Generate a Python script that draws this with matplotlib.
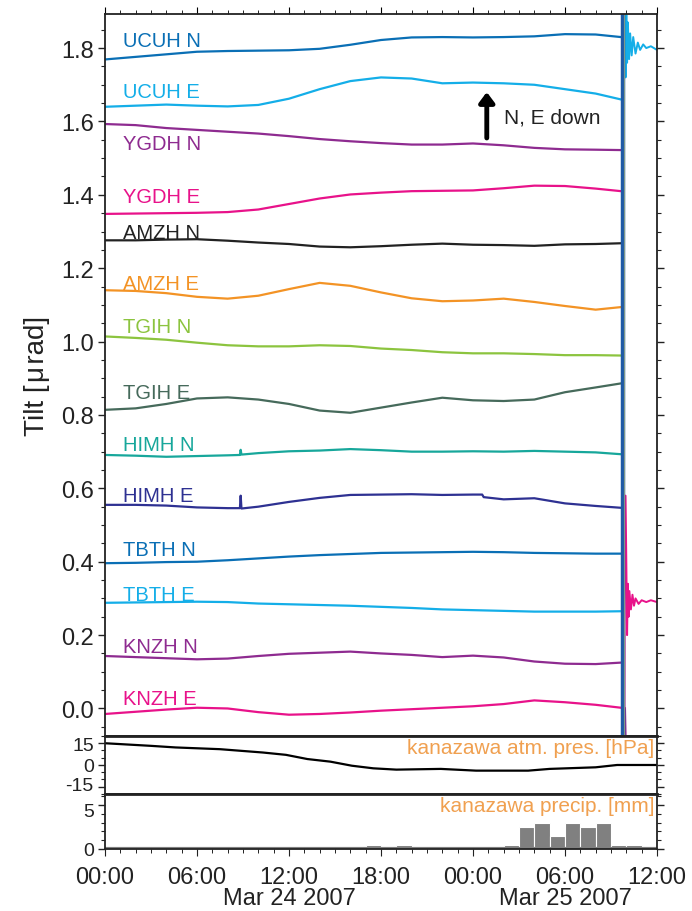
import numpy as np
import matplotlib
matplotlib.use("Agg")
import matplotlib.pyplot as plt
import matplotlib.transforms as mtransforms
from matplotlib.ticker import MultipleLocator

plt.rcParams['font.family'] = ['Liberation Sans', 'DejaVu Sans']
plt.rcParams['axes.unicode_minus'] = False

# --- data (hours since 2007-03-24 00:00) ---
hours = [0, 2, 4, 6, 8, 10, 12, 14, 16, 18, 20, 22, 24, 26, 28, 30, 32, 33.65]

ucuh_n = [1.769, 1.776, 1.783, 1.790, 1.792, 1.793, 1.794, 1.798, 1.809, 1.822,
          1.829, 1.830, 1.829, 1.830, 1.832, 1.838, 1.837, 1.830]
ucuh_e = [1.640, 1.643, 1.646, 1.643, 1.641, 1.645, 1.662, 1.688, 1.710, 1.720,
          1.717, 1.704, 1.706, 1.704, 1.700, 1.688, 1.676, 1.660]
ygdh_n = [1.593, 1.590, 1.582, 1.577, 1.572, 1.567, 1.560, 1.552, 1.546, 1.541,
          1.537, 1.537, 1.540, 1.535, 1.528, 1.524, 1.523, 1.522]
ygdh_e = [1.348, 1.349, 1.350, 1.351, 1.353, 1.360, 1.375, 1.390, 1.401, 1.406,
          1.410, 1.411, 1.412, 1.418, 1.425, 1.424, 1.417, 1.410]
amzh_n = [1.276, 1.276, 1.278, 1.279, 1.275, 1.270, 1.266, 1.259, 1.257, 1.260,
          1.264, 1.267, 1.264, 1.263, 1.261, 1.265, 1.266, 1.268]
amzh_e = [1.140, 1.138, 1.132, 1.122, 1.117, 1.125, 1.143, 1.160, 1.152, 1.134,
          1.118, 1.110, 1.112, 1.117, 1.108, 1.097, 1.087, 1.094]
tgih_n = [1.014, 1.010, 1.005, 0.997, 0.990, 0.987, 0.987, 0.990, 0.988, 0.981,
          0.977, 0.971, 0.968, 0.968, 0.966, 0.963, 0.963, 0.962]
tgih_e = [0.814, 0.818, 0.830, 0.845, 0.848, 0.842, 0.830, 0.812, 0.806, 0.820,
          0.834, 0.847, 0.840, 0.838, 0.842, 0.862, 0.875, 0.886]
tbth_n = [0.396, 0.397, 0.399, 0.400, 0.404, 0.409, 0.414, 0.418, 0.421, 0.424,
          0.425, 0.426, 0.427, 0.426, 0.424, 0.423, 0.422, 0.422]
tbth_e = [0.288, 0.289, 0.290, 0.291, 0.290, 0.286, 0.284, 0.282, 0.280, 0.277,
          0.274, 0.270, 0.268, 0.266, 0.264, 0.264, 0.264, 0.265]
knzh_n = [0.143, 0.140, 0.137, 0.134, 0.136, 0.143, 0.149, 0.152, 0.155, 0.150,
          0.146, 0.140, 0.144, 0.139, 0.128, 0.122, 0.121, 0.125]
knzh_e = [-0.015, -0.009, -0.003, 0.002, 0.000, -0.010, -0.017, -0.015, -0.011, -0.006,
          -0.002, 0.002, 0.006, 0.012, 0.022, 0.017, 0.010, 0.002]

# HIMH traces have small spikes, so they get their own time axis
himh_n_t = [0, 2, 4, 6, 8, 8.8, 8.85, 8.9, 10, 12, 14, 16, 18, 20, 22, 24, 26, 28, 30, 32, 33.65]
himh_n = [0.691, 0.689, 0.686, 0.688, 0.690, 0.691, 0.705, 0.692, 0.696, 0.701, 0.703,
          0.707, 0.704, 0.700, 0.700, 0.701, 0.700, 0.702, 0.700, 0.698, 0.693]
himh_e_t = [0, 2, 4, 6, 8, 8.8, 8.85, 8.9, 10, 12, 14, 16, 18, 20, 22, 24, 24.6, 24.7,
            26, 28, 29, 30, 32, 33.65]
himh_e = [0.555, 0.555, 0.553, 0.548, 0.546, 0.546, 0.580, 0.545, 0.550, 0.563, 0.574,
          0.582, 0.583, 0.584, 0.582, 0.583, 0.583, 0.576, 0.570, 0.573, 0.566, 0.559,
          0.552, 0.547]

# after the earthquake (Mar 25 ~09:42)
quake_hour = 33.77
cyan_after_t = [33.9, 33.95, 34.0, 34.05, 34.1, 34.18, 34.25, 34.35, 34.45, 34.6,
                34.75, 34.9, 35.1, 35.3, 35.6, 36.0]
cyan_after = [1.95, 1.72, 1.90, 1.76, 1.87, 1.77, 1.84, 1.78, 1.83, 1.785,
              1.815, 1.795, 1.81, 1.80, 1.805, 1.795]
pink_after_t = [33.88, 33.9, 33.95, 34.0, 34.05, 34.1, 34.15, 34.2, 34.3, 34.4,
                34.5, 34.6, 34.8, 35.0, 35.3, 35.6, 36.0]
pink_after = [0.0, 0.58, 0.58, 0.40, 0.20, 0.34, 0.25, 0.32, 0.27, 0.31,
              0.28, 0.30, 0.285, 0.295, 0.29, 0.295, 0.29]
purple_after_t = [33.9, 33.95]
purple_after = [0.0, -0.10]

pres_t = [0, 3, 4.6, 7.5, 10.3, 11.8, 13.2, 14.7, 16.1, 17.5, 19, 21.9, 24.2, 27.6,
          29, 32, 33.4, 36]
pres = [15, 13.2, 12.1, 10.9, 8.6, 7.0, 4.1, 2.3, -0.5, -2.3, -3.2, -2.7, -3.9, -3.9,
        -2.7, -1.6, 0, 0]

precip_hour = list(range(36))
precip = [0] * 36
for h, v in [(17, 0.5), (19, 0.5), (26, 0.5), (27, 2.5), (28, 3.0), (29, 1.5),
             (30, 3.0), (31, 2.5), (32, 3.0), (33, 0.5), (34, 0.5)]:
    precip[h] = v

tick_labels = ["00:00", "06:00", "12:00\nMar 24 2007", "18:00", "00:00",
               "06:00\nMar 25 2007", "12:00"]

series = [
    ("UCUH N", hours, ucuh_n, "#0a6fb5", 1.82),
    ("UCUH E", hours, ucuh_e, "#14aee8", 1.681),
    ("YGDH N", hours, ygdh_n, "#8e2b90", 1.54),
    ("YGDH E", hours, ygdh_e, "#e8128a", 1.395),
    ("AMZH N", hours, amzh_n, "#222222", 1.297),
    ("AMZH E", hours, amzh_e, "#f39325", 1.158),
    ("TGIH N", hours, tgih_n, "#8cc43f", 1.041),
    ("TGIH E", hours, tgih_e, "#466a5b", 0.861),
    ("HIMH N", himh_n_t, himh_n, "#17a79b", 0.719),
    ("HIMH E", himh_e_t, himh_e, "#2e3192", 0.58),
    ("TBTH N", hours, tbth_n, "#0a6fb5", 0.433),
    ("TBTH E", hours, tbth_e, "#14aee8", 0.31),
    ("KNZH N", hours, knzh_n, "#8e2b90", 0.169),
    ("KNZH E", hours, knzh_e, "#e8128a", 0.027),
]

# --- figure ---
fig = plt.figure(figsize=(6.92, 9.12), dpi=100)
ax = fig.add_axes([0.1517, 0.1919, 0.7977, 0.7917])
ax_p = fig.add_axes([0.1517, 0.1283, 0.7977, 0.0636])
ax_r = fig.add_axes([0.1517, 0.0680, 0.7977, 0.0603])

for name, t, v, c, ly in series:
    ax.plot(t, v, color=c, lw=1.6)
    ax.text(1.2, ly, name, color=c, fontsize=14.5, va="center", ha="left")

ax.plot(purple_after_t, purple_after, color="#8e2b90", lw=1.8)
ax.plot(pink_after_t, pink_after, color="#e8128a", lw=1.4)
ax.plot(cyan_after_t, cyan_after, color="#14aee8", lw=1.4)
ax.axvline(quake_hour, color="#1f5aa6", lw=3.2)
ax.axvline(quake_hour + 0.1, color="#7f9a8a", lw=0.8)

ax.annotate("", xy=(24.9, 1.68), xytext=(24.9, 1.555),
            arrowprops=dict(arrowstyle="-|>,head_width=0.45,head_length=0.6",
                            color="black", lw=3.5, shrinkA=0, shrinkB=0))
ax.text(26.0, 1.613, "N, E down", fontsize=15, va="center", ha="left",
        color="#222222")

ax.set_ylim(-0.075, 1.893)
ax.set_yticks([0.0, 0.2, 0.4, 0.6, 0.8, 1.0, 1.2, 1.4, 1.6, 1.8])
ax.yaxis.set_minor_locator(MultipleLocator(0.05))
ax.set_ylabel("Tilt [\u200aμ\u200arad]", fontsize=20, labelpad=8, color="#222222")

ax_p.plot(pres_t, pres, color="black", lw=1.6)
ax_p.set_ylim(-20, 20)
ax_p.set_yticks([-15, 0, 15])
ax_p.yaxis.set_minor_locator(MultipleLocator(5))
ax_p.text(0.995, 0.97, "kanazawa atm. pres. [hPa]", transform=ax_p.transAxes,
          color="#f0a050", fontsize=15, ha="right", va="top")

ax_r.bar(precip_hour, precip, width=1.0, align="edge", color="#808080",
         edgecolor="white", linewidth=0.8)
ax_r.axhline(0, color="#808080", lw=3)
ax_r.set_ylim(0, 6.25)
ax_r.set_yticks([0, 5])
ax_r.yaxis.set_minor_locator(MultipleLocator(1))
ax_r.text(0.995, 0.97, "kanazawa precip. [mm]", transform=ax_r.transAxes,
          color="#f0a050", fontsize=15, ha="right", va="top")

for a in (ax, ax_p, ax_r):
    a.set_xlim(0, 36)
    for s in a.spines.values():
        s.set_linewidth(1.3)
        s.set_color("#222222")
    a.tick_params(axis="y", which="both", direction="out", left=True, right=True,
                  labelsize=17, colors="#222222", pad=3)
    a.tick_params(axis="y", which="major", length=5, width=1)
    a.tick_params(axis="y", which="minor", length=3, width=0.8)

# the small panels sit close together, keep their tick labels a bit smaller
for a in (ax_p, ax_r):
    a.spines["top"].set_linewidth(2)
    a.tick_params(axis="y", which="major", labelsize=14)

ax.set_xticks(range(0, 37, 6))
ax.xaxis.set_minor_locator(MultipleLocator(1))
ax.tick_params(axis="x", which="both", top=True, bottom=False, labeltop=False,
               labelbottom=False, direction="out")
ax.tick_params(axis="x", which="major", length=5)
ax.tick_params(axis="x", which="minor", length=3)
ax_p.set_xticks([])

ax_r.set_xticks(range(0, 37, 6))
ax_r.set_xticklabels(tick_labels)
ax_r.xaxis.set_minor_locator(MultipleLocator(1))
ax_r.tick_params(axis="x", which="major", length=5, labelsize=17, direction="out",
                 colors="#222222", pad=7)
ax_r.tick_params(axis="x", which="minor", length=3, direction="out")
for lbl in ax_r.get_xticklabels():
    lbl.set_linespacing(0.95)

# nudge "-15" up and "5" down so they don't collide at the panel seam
fig.canvas.draw()
for lbl in ax_p.get_yticklabels():
    if lbl.get_text() == "-15":
        lbl.set_transform(lbl.get_transform() +
                          mtransforms.ScaledTranslation(0, 2 / 72, fig.dpi_scale_trans))
for lbl in ax_r.get_yticklabels():
    if lbl.get_text() == "5":
        lbl.set_transform(lbl.get_transform() +
                          mtransforms.ScaledTranslation(0, -3 / 72, fig.dpi_scale_trans))

fig.savefig("out.png", dpi=100)
